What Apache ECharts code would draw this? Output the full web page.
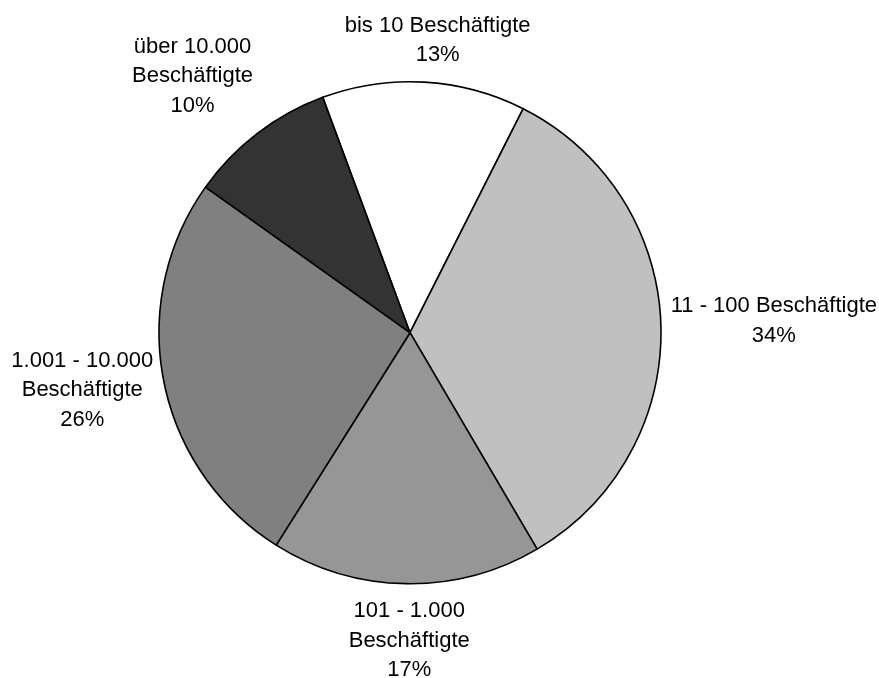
<!DOCTYPE html>
<html>
<head>
<meta charset="utf-8">
<title>Unternehmen nach Beschäftigtenzahl</title>
<script src="https://cdn.jsdelivr.net/npm/echarts@6/dist/echarts.min.js"></script>
<style>
  html, body { margin: 0; padding: 0; background: #ffffff; }
  #chart { width: 879px; height: 678px; }
</style>
</head>
<body>
<div id="chart"></div>
<script>
// Size classes, clockwise from the top
const categories = [
  'bis 10 Beschäftigte',
  '11 - 100 Beschäftigte',
  '101 - 1.000\nBeschäftigte',
  '1.001 - 10.000\nBeschäftigte',
  'über 10.000\nBeschäftigte'
];
// Shares in percent
const shares = [13.1, 34.1, 17.4, 25.9, 9.5];
// Grey fill per slice
const sliceColors = ['#ffffff', '#c0c0c0', '#969696', '#808080', '#333333'];

// Pie geometry
const CX = 410, CY = 332.7, R = 251;
const START_ANGLE = 110.35;   // degrees, counter-clockwise from 3 o'clock
const LABEL_GAP = 10;
// Fine adjustment of each label after radial placement [dx, dy]
const labelNudge = [[11, 3], [-1, 0], [4, 2], [5, -8], [-15, 8]];

const total = shares.reduce((a, b) => a + b, 0);
// Mid angle of each slice, clockwise from 12 o'clock, in radians
const midAngles = [];
{
  let acc = 90 - START_ANGLE; // clockwise offset from top
  shares.forEach(v => {
    const span = v / total * 360;
    midAngles.push((acc + span / 2) * Math.PI / 180);
    acc += span;
  });
}

const chart = echarts.init(document.getElementById('chart'), null, { renderer: 'canvas' });

chart.setOption({
  animation: false,
  backgroundColor: '#ffffff',
  series: [{
    type: 'pie',
    center: [CX, CY],
    radius: [0, R],
    startAngle: START_ANGLE,
    clockwise: true,
    avoidLabelOverlap: false,
    percentPrecision: 0,
    emphasis: { disabled: true },
    itemStyle: { borderColor: '#000000', borderWidth: 1.6 },
    label: {
      show: true,
      position: 'outside',
      formatter: '{b}\n{d}%',
      fontFamily: '"Liberation Sans", Arial, sans-serif',
      fontSize: 22,
      lineHeight: 29.5,
      color: '#000000',
      align: 'center'
    },
    labelLine: { show: false },
    labelLayout: function (params) {
      const i = params.dataIndex;
      const a = midAngles[i];
      const dx = Math.sin(a), dy = -Math.cos(a);
      const w = params.labelRect.width, h = params.labelRect.height;
      // distance from the rim to the label box centre along the mid direction
      const ext = Math.abs(dx) * w / 2 + Math.abs(dy) * h / 2;
      const d = R + LABEL_GAP + ext;
      return {
        x: CX + dx * d + labelNudge[i][0],
        y: CY + dy * d + labelNudge[i][1],
        align: 'center',
        verticalAlign: 'middle'
      };
    },
    data: categories.map((name, i) => ({
      name: name,
      value: shares[i],
      itemStyle: { color: sliceColors[i] }
    }))
  }]
});
</script>
</body>
</html>
